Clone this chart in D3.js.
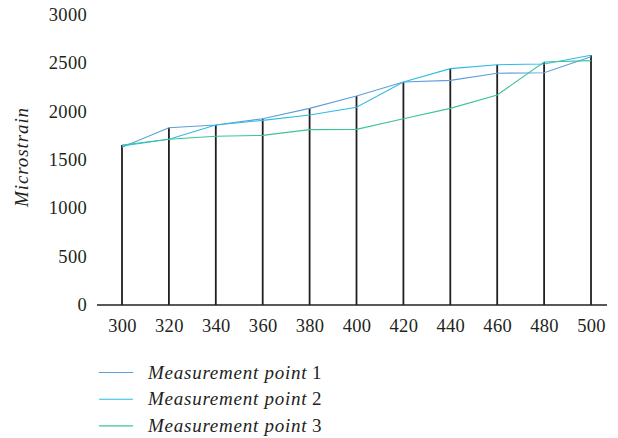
<!DOCTYPE html>
<html><head><meta charset="utf-8">
<script src="https://cdn.jsdelivr.net/npm/d3@7"></script>
<style>body{margin:0;background:#fff}svg{display:block}</style>
</head><body>
<svg id="c" width="618" height="438"></svg>
<script>
const temps = [300, 320, 340, 360, 380, 400, 420, 440, 460, 480, 500];
const point1 = [1631, 1834, 1862, 1927, 2034, 2162, 2307, 2324, 2397, 2403, 2569];
const point2 = [1645, 1714, 1862, 1910, 1965, 2045, 2307, 2445, 2486, 2493, 2583];
const point3 = [1655, 1714, 1745, 1755, 1814, 1817, 1927, 2034, 2172, 2514, 2528];
const yTicks = [0, 500, 1000, 1500, 2000, 2500, 3000];
const seriesNames = ["Measurement point", "Measurement point", "Measurement point"];
const seriesNums = ["1", "2", "3"];
const colors = ["#5d9fdb", "#2fbbe6", "#3cc39a"];

const svg = d3.select("#c");
const font = "'Liberation Serif','Times New Roman',serif";
const x = d3.scaleLinear().domain([300, 500]).range([122, 591]);
const y = d3.scaleLinear().domain([0, 3000]).range([305, 15]);

// y tick labels
svg.append("g").selectAll("text").data(yTicks).join("text")
  .attr("x", 87).attr("y", d => y(d)).attr("dy", "0.33em")
  .attr("text-anchor", "end").attr("font-family", font).attr("font-size", 18.5)
  .attr("letter-spacing", 0.3).attr("fill", "#231f20").text(d => d);

// x axis
const xAxis = svg.append("g").attr("transform", `translate(0,${y(0)})`)
  .call(d3.axisBottom(x).tickValues(temps).tickSize(0).tickPadding(14).tickFormat(d3.format("d")));
xAxis.select(".domain").remove();
xAxis.selectAll("text").attr("font-family", font).attr("font-size", 18.5)
  .attr("letter-spacing", 0.3).attr("fill", "#231f20");
svg.append("line").attr("x1", 97).attr("x2", 607).attr("y1", y(0)).attr("y2", y(0))
  .attr("stroke", "#231f20").attr("stroke-width", 1.6);

// drop lines
const series = [point1, point2, point3];
const maxes = temps.map((t, i) => d3.max(series, s => s[i]));
svg.append("g").selectAll("line").data(temps).join("line")
  .attr("x1", d => x(d)).attr("x2", d => x(d))
  .attr("y1", y(0)).attr("y2", (d, i) => y(maxes[i]))
  .attr("stroke", "#231f20").attr("stroke-width", 1.8);

// series lines
const line = d3.line().x((d, i) => x(temps[i])).y(d => y(d));
series.forEach((s, k) => {
  svg.append("path").datum(s).attr("d", line).attr("fill", "none")
    .attr("stroke", colors[k]).attr("stroke-width", 1.1);
});

// y title
svg.append("text").attr("transform", "translate(28,157) rotate(-90)")
  .attr("text-anchor", "middle").attr("font-family", font).attr("font-size", 19)
  .attr("letter-spacing", 0.9)
  .attr("font-style", "italic").attr("fill", "#231f20").text("Microstrain");

// legend
const lg = svg.append("g");
seriesNames.forEach((n, k) => {
  const yy = 372.5 + k * 26.7;
  lg.append("line").attr("x1", 99).attr("x2", 133).attr("y1", yy).attr("y2", yy)
    .attr("stroke", colors[k]).attr("stroke-width", 1.1);
  const t = lg.append("text").attr("x", 148).attr("y", yy).attr("dy", "0.33em")
    .attr("font-family", font).attr("font-size", 19).attr("fill", "#231f20");
  t.append("tspan").attr("font-style", "italic").attr("letter-spacing", 0.75).text(n);
  t.append("tspan").text(" " + seriesNums[k]);
});
</script>
</body></html>
